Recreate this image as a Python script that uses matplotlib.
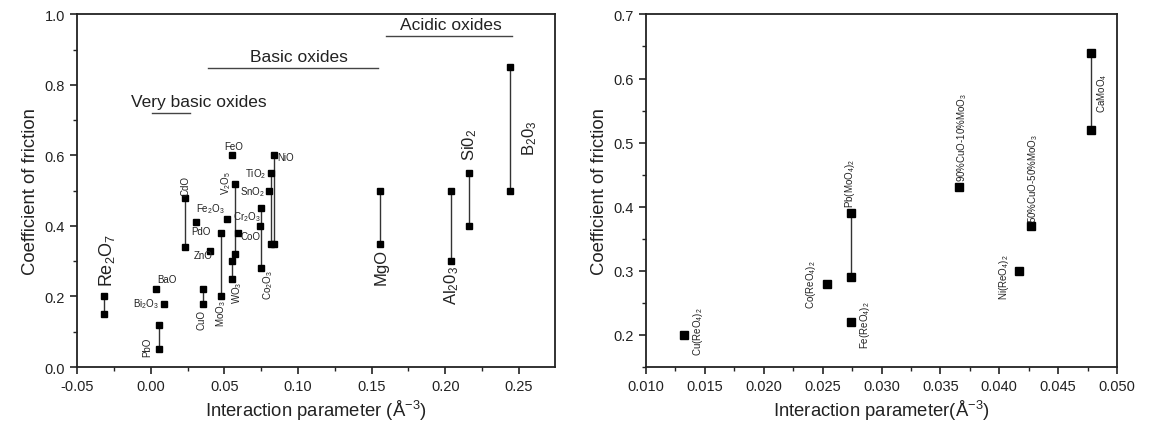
import matplotlib
matplotlib.use("Agg")
import matplotlib.pyplot as plt
import numpy as np
from matplotlib.ticker import MultipleLocator, FormatStrFormatter

plt.rcParams['font.family'] = ['Liberation Sans', 'DejaVu Sans']
plt.rcParams['mathtext.default'] = 'regular'

# ---- left panel: oxides (high / low friction, nan = single value)
ox_names = [r'Re$_2$O$_7$', 'BaO', r'Bi$_2$O$_3$', 'PbO', 'CdO', 'PdO', 'ZnO', 'CuO',
            r'MoO$_3$', r'Fe$_2$O$_3$', 'FeO', r'V$_2$O$_5$', r'WO$_3$', r'Cr$_2$O$_3$',
            'CoO', r'Co$_2$O$_3$', r'SnO$_2$', r'TiO$_2$', 'NiO', 'MgO',
            r'Al$_2$0$_3$', r'Si0$_2$', r'B$_2$0$_3$']
ox_x = [-0.032, 0.0035, 0.009, 0.0055, 0.0235, 0.031, 0.040, 0.0355,
        0.048, 0.052, 0.055, 0.057, 0.055, 0.074,
        0.059, 0.075, 0.080, 0.0815, 0.0835, 0.156,
        0.204, 0.216, 0.244]
ox_hi = [0.20, 0.22, 0.18, 0.12, 0.48, 0.41, 0.33, 0.22,
         0.38, 0.42, 0.60, 0.52, 0.30, 0.40,
         0.38, 0.45, 0.50, 0.55, 0.60, 0.50,
         0.50, 0.55, 0.85]
ox_lo = [0.15, np.nan, np.nan, 0.05, 0.34, np.nan, np.nan, 0.18,
         0.20, np.nan, np.nan, 0.32, 0.25, np.nan,
         np.nan, 0.28, np.nan, 0.35, 0.35, 0.35,
         0.30, 0.40, 0.50]

groups = ['Very basic oxides', 'Basic oxides', 'Acidic oxides']
group_start = [0.001, 0.0386, 0.160]
group_end = [0.0264, 0.154, 0.245]
group_level = [0.721, 0.849, 0.939]
group_text_x = [0.0325, 0.1004, 0.2038]

# ---- right panel: rhenates / molybdates
cp_names = [r'Cu(ReO$_4$)$_2$', r'Co(ReO$_4$)$_2$', r'Pb(MoO$_4$)$_2$', r'Fe(ReO$_4$)$_2$',
            r'90%CuO-10%MoO$_3$', r'Ni(ReO$_4$)$_2$', r'50%CuO-50%MoO$_3$', r'CaMoO$_4$']
cp_x = [0.0132, 0.0254, 0.0274, 0.0274, 0.0366, 0.0417, 0.0427, 0.0478]
cp_hi = [0.20, 0.28, 0.39, 0.22, 0.43, 0.30, 0.37, 0.64]
cp_lo = [np.nan, np.nan, 0.29, np.nan, np.nan, np.nan, np.nan, 0.52]

# label placement: (dx px, dy px, anchor 'hi'/'lo', rotation, ha, va, size)
ox_lab = {
    r'Re$_2$O$_7$': (3, 10, 'hi', 90, 'center', 'bottom', 13),
    'BaO': (1, 5, 'hi', 0, 'left', 'bottom', 7),
    r'Bi$_2$O$_3$': (-5, 0, 'hi', 0, 'right', 'center', 7),
    'PbO': (-12, 3, 'lo', 90, 'center', 'center', 7),
    'CdO': (0, 3, 'hi', 90, 'center', 'bottom', 7),
    'PdO': (-5, -4, 'hi', 0, 'left', 'top', 7),
    'ZnO': (3, -4, 'hi', 0, 'right', 'center', 7),
    'CuO': (-1, -5, 'lo', 90, 'center', 'top', 7),
    r'MoO$_3$': (0, -3, 'lo', 90, 'center', 'top', 7),
    r'Fe$_2$O$_3$': (-3, 4, 'hi', 0, 'right', 'bottom', 7),
    'FeO': (2, 4, 'hi', 0, 'center', 'bottom', 7),
    r'V$_2$O$_5$': (-9, 2, 'hi', 90, 'center', 'center', 7),
    r'WO$_3$': (5, -2, 'lo', 90, 'center', 'top', 7),
    r'Cr$_2$O$_3$': (1, 3, 'hi', 0, 'right', 'bottom', 7),
    'CoO': (3, -3, 'hi', 0, 'left', 'center', 7),
    r'Co$_2$O$_3$': (7, -1, 'lo', 90, 'center', 'top', 7),
    r'SnO$_2$': (-3, 0, 'hi', 0, 'right', 'center', 7),
    r'TiO$_2$': (-4, 0, 'hi', 0, 'right', 'center', 7),
    'NiO': (4, -2, 'hi', 0, 'left', 'center', 7),
    'MgO': (1, -4, 'lo', 90, 'center', 'top', 12),
    r'Al$_2$0$_3$': (0, -4, 'lo', 90, 'center', 'top', 12),
    r'Si0$_2$': (1, 13, 'hi', 90, 'center', 'bottom', 12),
    r'B$_2$0$_3$': (20, -70, 'hi', 90, 'center', 'center', 12),
}
cp_lab = {
    r'Cu(ReO$_4$)$_2$': (14, 4, 'hi', 90, 'center', 'center', 7),
    r'Co(ReO$_4$)$_2$': (-16, 0, 'hi', 90, 'center', 'center', 7),
    r'Pb(MoO$_4$)$_2$': (-1, 6, 'hi', 90, 'center', 'bottom', 7),
    r'Fe(ReO$_4$)$_2$': (14, -2, 'hi', 90, 'center', 'center', 7),
    r'90%CuO-10%MoO$_3$': (3, 6, 'hi', 90, 'center', 'bottom', 7),
    r'Ni(ReO$_4$)$_2$': (-15, -5, 'hi', 90, 'center', 'center', 7),
    r'50%CuO-50%MoO$_3$': (2, 4, 'hi', 90, 'center', 'bottom', 7),
    r'CaMoO$_4$': (11, -39, 'hi', 90, 'center', 'center', 7),
}

fig = plt.figure(figsize=(11.53, 4.35), dpi=100)
ax1 = fig.add_axes([0.0668, 0.154, 0.4146, 0.8106])
ax2 = fig.add_axes([0.5603, 0.154, 0.4085, 0.8106])


def draw(ax, names, xs, his, los, labs, ms):
    for n, x, hi, lo in zip(names, xs, his, los):
        if not np.isnan(lo):
            ax.plot([x, x], [hi, lo], color='#333333', lw=1.0, zorder=2)
            ax.plot([x], [lo], 's', color='black', ms=ms, zorder=3)
        ax.plot([x], [hi], 's', color='black', ms=ms, zorder=3)
        dx, dy, anc, rot, ha, va, fs = labs[n]
        yy = hi if anc == 'hi' else lo
        ax.annotate(n, xy=(x, yy), xytext=(dx, dy), textcoords='offset pixels',
                    rotation=rot, ha=ha, va=va, fontsize=fs, color='#222222')


def style(ax):
    for s in ax.spines.values():
        s.set_linewidth(1.3)
        s.set_color('#222222')
    ax.tick_params(which='major', direction='out', length=5, width=1.2,
                   labelsize=10.5, colors='#222222')
    ax.tick_params(which='minor', direction='out', length=3, width=1.0,
                   colors='#222222')


draw(ax1, ox_names, ox_x, ox_hi, ox_lo, ox_lab, 4.2)
for g, a, b, lvl, tx in zip(groups, group_start, group_end, group_level, group_text_x):
    ax1.plot([a, b], [lvl, lvl], color='#444444', lw=1.0)
    ax1.text(tx, lvl + 0.010, g, ha='center', va='bottom', fontsize=12.5, color='#222222')

ax1.set_xlim(-0.05, 0.2745)
ax1.set_ylim(0, 1.0)
ax1.xaxis.set_major_locator(MultipleLocator(0.05))
ax1.xaxis.set_minor_locator(MultipleLocator(0.025))
ax1.yaxis.set_major_locator(MultipleLocator(0.2))
ax1.yaxis.set_minor_locator(MultipleLocator(0.1))
ax1.xaxis.set_major_formatter(FormatStrFormatter('%.2f'))
ax1.yaxis.set_major_formatter(FormatStrFormatter('%.1f'))
ax1.set_xlabel(r'Interaction parameter ($\AA^{-3}$)', fontsize=13.3, color='#222222')
ax1.set_ylabel('Coefficient of friction', fontsize=13.3, color='#222222')
style(ax1)

draw(ax2, cp_names, cp_x, cp_hi, cp_lo, cp_lab, 5.2)
ax2.set_xlim(0.010, 0.050)
ax2.set_ylim(0.15, 0.70)
ax2.xaxis.set_major_locator(MultipleLocator(0.005))
ax2.xaxis.set_minor_locator(MultipleLocator(0.0025))
ax2.yaxis.set_major_locator(MultipleLocator(0.1))
ax2.yaxis.set_minor_locator(MultipleLocator(0.05))
ax2.xaxis.set_major_formatter(FormatStrFormatter('%.3f'))
ax2.yaxis.set_major_formatter(FormatStrFormatter('%.1f'))
ax2.set_xlabel(r'Interaction parameter($\AA^{-3}$)', fontsize=13.3, color='#222222')
ax2.set_ylabel('Coefficient of friction', fontsize=13.3, color='#222222')
style(ax2)

fig.savefig('out.png', dpi=100)
